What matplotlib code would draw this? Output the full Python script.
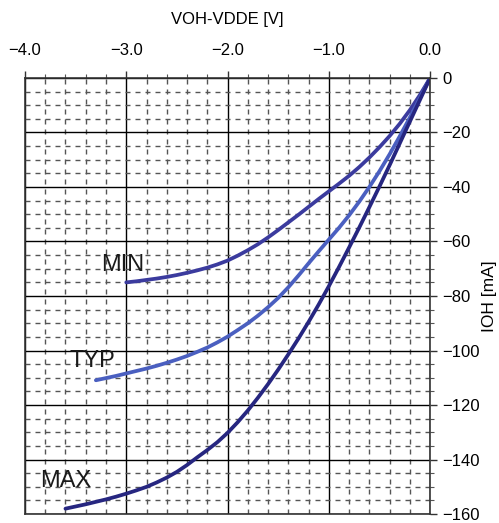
import matplotlib
matplotlib.use("Agg")
import matplotlib.pyplot as plt
from matplotlib.ticker import MultipleLocator

plt.rcParams['font.family'] = ['Liberation Sans', 'DejaVu Sans']

# Data
min_v = [0.0, -0.1, -0.2, -0.3, -0.4, -0.5, -0.6, -0.7, -0.8, -0.9, -1.0, -1.1, -1.2, -1.3, -1.4, -1.5,
         -1.6, -1.7, -1.8, -1.9, -2.0, -2.1, -2.2, -2.3, -2.4, -2.5, -2.6, -2.7, -2.8, -2.9, -3.0]
min_i = [0.0, -6.2, -11.8, -16.8, -21.3, -25.4, -29.2, -32.7, -35.9, -38.8, -41.6, -44.4, -47.3, -50.2, -53.0, -55.8,
         -58.5, -61.0, -63.2, -65.2, -67.0, -68.4, -69.6, -70.6, -71.5, -72.3, -73.0, -73.6, -74.1, -74.6, -75.0]

typ_v = [0.0, -0.1, -0.2, -0.3, -0.4, -0.5, -0.6, -0.7, -0.8, -0.9, -1.0, -1.1, -1.2, -1.3, -1.4, -1.5, -1.6,
         -1.7, -1.8, -1.9, -2.0, -2.1, -2.2, -2.3, -2.4, -2.5, -2.6, -2.7, -2.8, -2.9, -3.0, -3.1, -3.2, -3.3]
typ_i = [0.0, -7.3, -14.5, -21.4, -28.0, -34.2, -40.0, -45.4, -50.4, -55.0, -59.3, -63.6, -68.0, -72.5, -76.8, -80.7, -84.1,
         -87.2, -90.0, -92.5, -94.9, -97.0, -98.9, -100.5, -102.0, -103.3, -104.5, -105.6, -106.6, -107.5, -108.4, -109.3, -110.1, -110.9]

max_v = [0.0, -0.1, -0.2, -0.3, -0.4, -0.5, -0.6, -0.7, -0.8, -0.9, -1.0, -1.1, -1.2, -1.3, -1.4, -1.5, -1.6, -1.7, -1.8,
         -1.9, -2.0, -2.1, -2.2, -2.3, -2.4, -2.5, -2.6, -2.7, -2.8, -2.9, -3.0, -3.1, -3.2, -3.3, -3.4, -3.5, -3.6]
max_i = [0.0, -8.0, -16.0, -24.0, -32.0, -39.8, -47.4, -54.9, -62.2, -69.4, -76.4, -83.1, -89.5, -95.6, -101.4, -107.0, -112.3, -117.3, -122.0,
         -126.3, -130.2, -133.6, -136.5, -139.2, -142.0, -144.5, -146.6, -148.4, -150.0, -151.3, -152.5, -153.6, -154.6, -155.5, -156.4, -157.2, -158.0]

x_ticks = [-4.0, -3.0, -2.0, -1.0, 0.0]
x_ticklabels = ["\u22124.0", "\u22123.0", "\u22122.0", "\u22121.0", "0.0"]
y_ticks = [0, -20, -40, -60, -80, -100, -120, -140, -160]
y_ticklabels = ["0", "\u221220", "\u221240", "\u221260", "\u221280", "\u2212100", "\u2212120", "\u2212140", "\u2212160"]

fig = plt.figure(figsize=(4.99, 5.23), dpi=100)
ax = fig.add_axes([0.050, 0.017, 0.812, 0.834])

ax.set_xlim(-4.0, 0.0)
ax.set_ylim(-160, 0)

ax.xaxis.set_minor_locator(MultipleLocator(0.2))
ax.yaxis.set_minor_locator(MultipleLocator(5))
ax.grid(which='major', color='black', linewidth=1.0, linestyle='-')
ax.grid(which='minor', color='#555555', linewidth=1.0, linestyle=(0, (3.6, 3.6)))
ax.set_axisbelow(True)

ax.plot(min_v, min_i, color='#3b3b9e', linewidth=2.7, solid_capstyle='round', solid_joinstyle='round')
ax.plot(typ_v, typ_i, color='#4a5fc0', linewidth=2.7, solid_capstyle='round', solid_joinstyle='round')
ax.plot(max_v, max_i, color='#262680', linewidth=2.7, solid_capstyle='round', solid_joinstyle='round')

ax.text(-3.04, -68.5, "MIN", fontsize=17, ha='center', va='center', color='#1a1a1a')
ax.text(-3.33, -104, "TYP", fontsize=17, ha='center', va='center', color='#1a1a1a')
ax.text(-3.6, -148, "MAX", fontsize=17, ha='center', va='center', color='#1a1a1a')

ax.xaxis.tick_top()
ax.xaxis.set_label_position('top')
ax.yaxis.tick_right()
ax.yaxis.set_label_position('right')
ax.set_xticks(x_ticks)
ax.set_xticklabels(x_ticklabels, fontsize=12)
ax.set_yticks(y_ticks)
ax.set_yticklabels(y_ticklabels, fontsize=12)
ax.tick_params(which='major', length=5, width=1, color='#333333', pad=4)
ax.tick_params(axis='x', which='major', pad=9)
ax.tick_params(which='minor', length=3, width=0.8, color='#555555')
ax.set_xlabel("VOH-VDDE [V]", fontsize=12, labelpad=14)
ax.set_ylabel("IOH [mA]", fontsize=12.5, labelpad=1, rotation=90)

for sp in ax.spines.values():
    sp.set_color('#333333')
    sp.set_linewidth(1.2)

fig.savefig("out.png", dpi=100)
